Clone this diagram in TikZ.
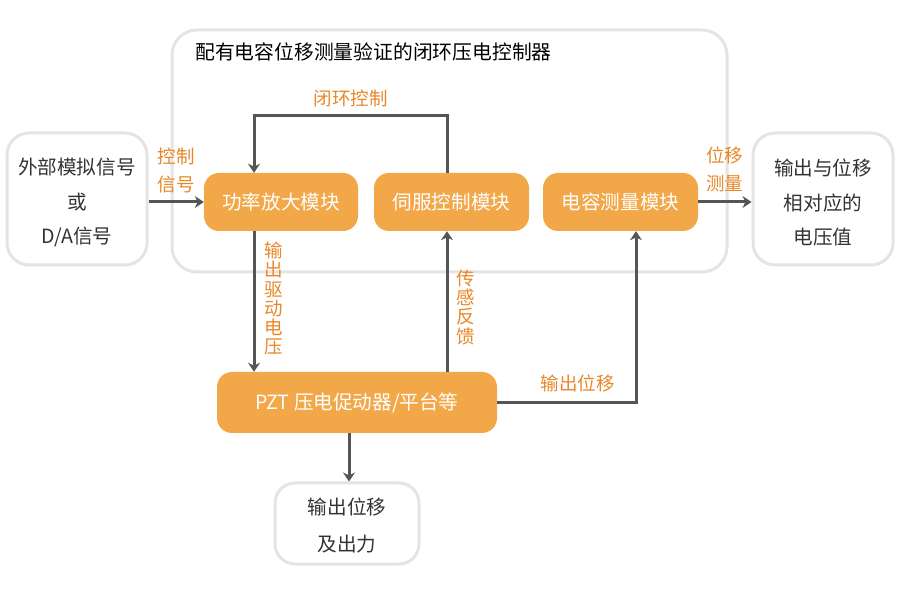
\documentclass[tikz,border=0pt]{standalone}
\usepackage{fontspec}
\setmainfont{Noto Sans CJK SC}
\usepackage{tikz}
\usetikzlibrary{calc}
\usetikzlibrary{arrows.meta}
\definecolor{ffaa4a}{rgb}{0.949,0.659,0.286}
\definecolor{ee8822}{rgb}{0.91,0.53,0.16}
\definecolor{e4e4e4}{rgb}{0.894,0.894,0.894}
\definecolor{qq5555}{rgb}{0.333,0.333,0.333}
\definecolor{qq3333}{rgb}{0.2,0.2,0.2}
\tikzset{
  modbox/.style={fill=ffaa4a,text=white,rounded corners=15pt,inner sep=0pt,font=\fontsize{19.6}{23}\selectfont},
  endbox/.style={draw=e4e4e4,line width=3pt,fill=white,text=qq3333,rounded corners=22pt,inner sep=0pt,align=center,font=\fontsize{19.6}{34.5}\selectfont},
  wire/.style={draw=qq5555,line width=3pt},
  lbl/.style={text=ee8822,inner sep=0pt,font=\fontsize{18.5}{28}\selectfont,align=center},
  vlbl/.style={text=ee8822,inner sep=0pt,font=\fontsize{18.5}{19.3}\selectfont,align=center}
}

\begin{document}
\begin{tikzpicture}[line cap=butt,line join=miter,>={Stealth[length=9pt,width=12pt]},x=1pt,y=-1pt]
            \useasboundingbox (0,0) rectangle (900,593);
            \draw [line width=3pt,color=e4e4e4,rounded corners=25pt] (172,30) rectangle (727,272);
            \node [anchor=west,text=black,inner sep=0pt,font=\fontsize{19.8}{23}\selectfont] (title) at (195,52) {配有电容位移测量验证的闭环压电控制器};
            \node [modbox,minimum width=154pt,minimum height=58pt] (amp) at (281,202) {功率放大模块};
            \node [modbox,minimum width=155pt,minimum height=58pt] (servo) at (451.5,202) {伺服控制模块};
            \node [modbox,minimum width=155pt,minimum height=58pt] (cap) at (620.5,202) {电容测量模块};
            \node [modbox,minimum width=280pt,minimum height=61pt] (pzt) at (357,402.5) {PZT 压电促动器/平台等};
            \node [endbox,minimum width=140pt,minimum height=132pt] (src) at (77,199) {\rule{0pt}{24pt}外部模拟信号\\或\\D/A信号};
            \node [endbox,minimum width=140pt,minimum height=132pt] (out) at (823,199) {\rule{0pt}{24pt}输出与位移\\相对应的\\电压值};
            \node [endbox,minimum width=144pt,minimum height=81pt,rounded corners=20pt,font=\fontsize{19.6}{37}\selectfont] (force) at (347,523.5) {\rule{0pt}{20pt}输出位移\\及出力};
            \coordinate (drv) at (254,0);
            \coordinate (fb) at (447,0);
            \coordinate (meas) at (636,0);
            \coordinate (act) at (349,0);
            \coordinate (top) at (0,116);
            % connectors
            \draw [->,wire] (amp.west -| src.east) -- (amp.west) node [lbl,midway,above=7pt] {控制\\信号};
            \draw [->,wire] (cap.east) -- (cap.east -| out.west) node [lbl,midway,above=9pt] {位移\\测量};
            \draw [->,wire] (servo.north -| fb) -- (fb |- top) -- (drv |- top) node [lbl,midway,above=8pt] {闭环控制} -- (amp.north -| drv);
            \draw [->,wire] (amp.south -| drv) -- (pzt.north -| drv) node [vlbl,pos=0.48,right=9pt] {输\\出\\驱\\动\\电\\压};
            \draw [->,wire] (pzt.north -| fb) -- (servo.south -| fb) node [vlbl,pos=0.46,right=8pt] {传\\感\\反\\馈};
            \draw [->,wire] (pzt.east) -- (pzt.east -| meas) node [lbl,pos=0.58,above=9pt] {输出位移} -- (cap.south -| meas);
            \draw [->,wire] (pzt.south -| act) -- (force.north -| act);
\end{tikzpicture}
\end{document}
